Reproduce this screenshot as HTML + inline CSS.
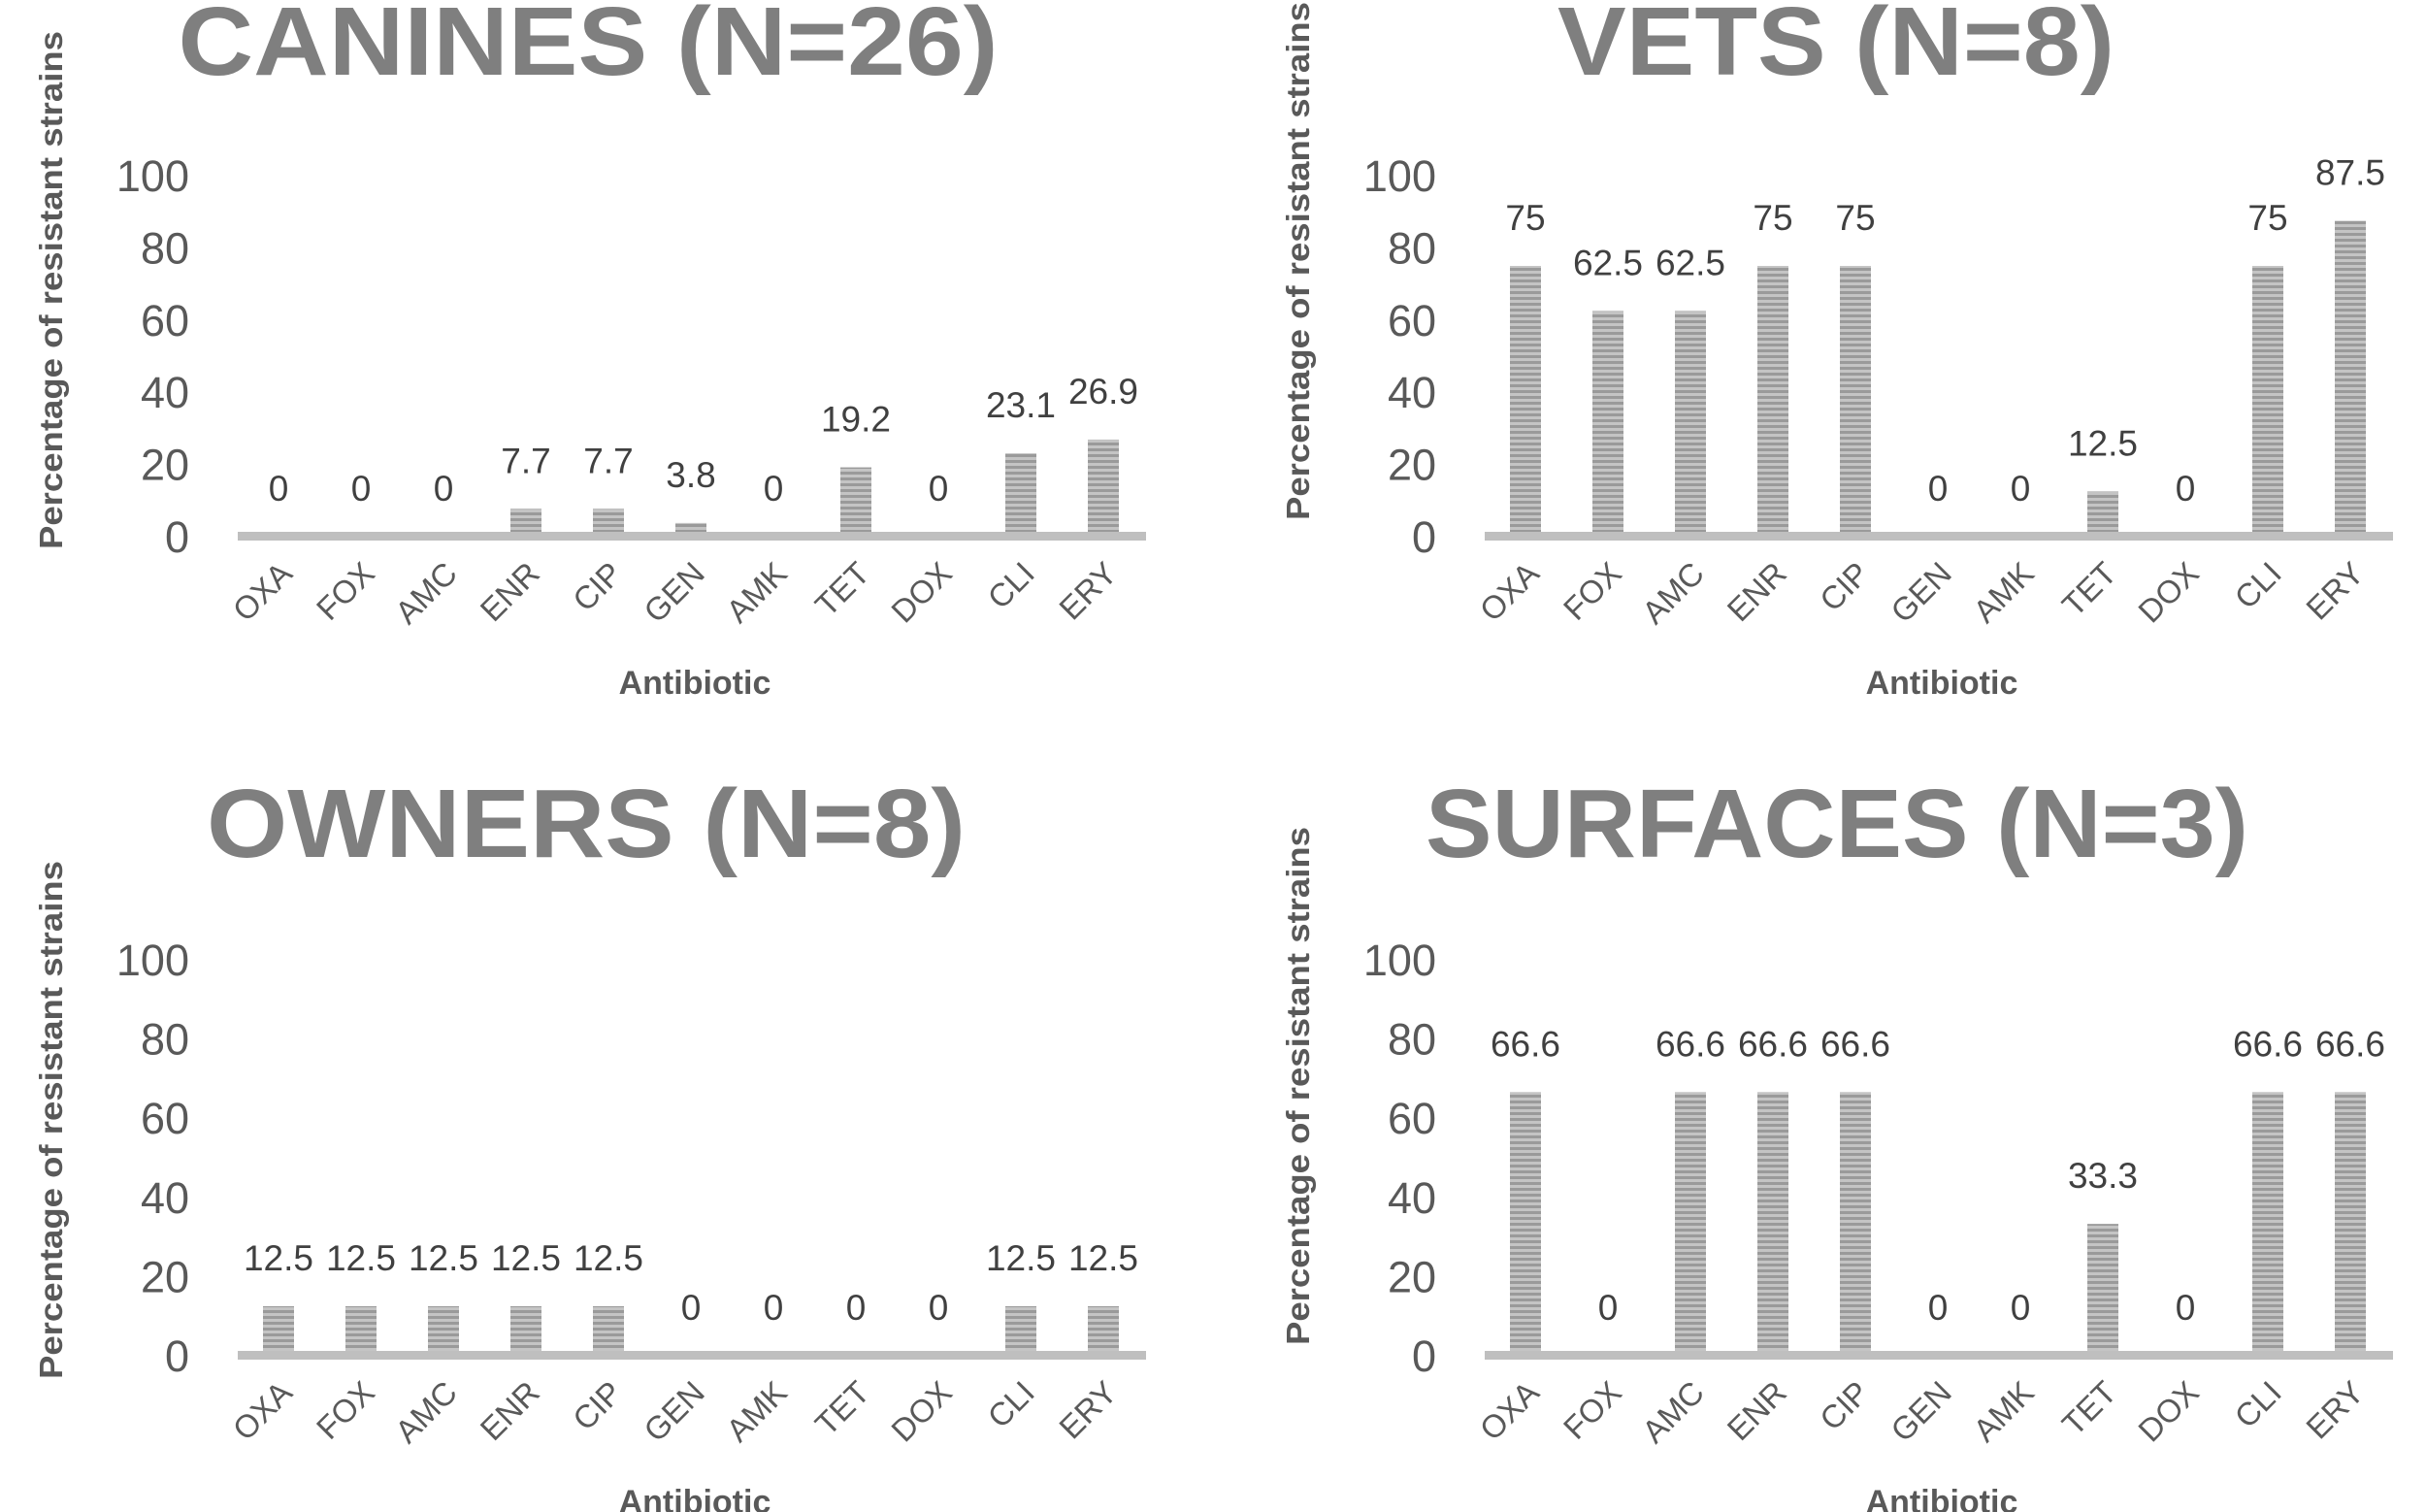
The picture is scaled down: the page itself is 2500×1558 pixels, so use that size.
<!DOCTYPE html>
<html><head><meta charset="utf-8"><style>
html,body{margin:0;padding:0;background:#fff;}
svg{display:block;font-family:"Liberation Sans",sans-serif;}
</style></head><body>
<svg id="chart" width="2500" height="1558" viewBox="0 0 2500 1558" xmlns="http://www.w3.org/2000/svg">
<defs>
<pattern id="stripes" width="8" height="6" patternUnits="userSpaceOnUse">
<rect width="8" height="6" fill="#c4c4c4"/><rect width="8" height="3" fill="#9a9a9a"/>
</pattern>
</defs>
</svg>
<script>
const categories = ["OXA","FOX","AMC","ENR","CIP","GEN","AMK","TET","DOX","CLI","ERY"];
const caninesValues = [0,0,0,7.7,7.7,3.8,0,19.2,0,23.1,26.9];
const caninesLabels = ["0","0","0","7.7","7.7","3.8","0","19.2","0","23.1","26.9"];
const vetsValues = [75,62.5,62.5,75,75,0,0,12.5,0,75,87.5];
const vetsLabels = ["75","62.5","62.5","75","75","0","0","12.5","0","75","87.5"];
const ownersValues = [12.5,12.5,12.5,12.5,12.5,0,0,0,0,12.5,12.5];
const ownersLabels = ["12.5","12.5","12.5","12.5","12.5","0","0","0","0","12.5","12.5"];
const surfacesValues = [66.6,0,66.6,66.6,66.6,0,0,33.3,0,66.6,66.6];
const surfacesLabels = ["66.6","0","66.6","66.6","66.6","0","0","33.3","0","66.6","66.6"];
const yTicks = [0,20,40,60,80,100];
const titles = ["CANINES (N=26)","VETS (N=8)","OWNERS (N=8)","SURFACES (N=3)"];

const NS = "http://www.w3.org/2000/svg";
const svg = document.getElementById("chart");
function mk(tag, attrs, parent){
  const e = document.createElementNS(NS, tag);
  for (const k in attrs) e.setAttribute(k, attrs[k]);
  (parent||svg).appendChild(e);
  return e;
}
const panels = [
  {name:"canines", values:caninesValues, labels:caninesLabels, dx:0, y0:553, y100:181, title:titles[0], tx:606, tb:77, tw:845, yt:299},
  {name:"vets", values:vetsValues, labels:vetsLabels, dx:1285, y0:553, y100:181, title:titles[1], tx:1892, tb:77, tw:574, yt:269},
  {name:"owners", values:ownersValues, labels:ownersLabels, dx:0, y0:1397, y100:989, title:titles[2], tx:604, tb:883, tw:782, yt:1154},
  {name:"surfaces", values:surfacesValues, labels:surfacesLabels, dx:1285, y0:1397, y100:989, title:titles[3], tx:1893, tb:883, tw:848, yt:1119}
];
panels.forEach(p=>{
  const g = mk("g",{});
  
  
  const xs = i => 287 + p.dx + i*85;
  const ys = v => p.y0 - (v/100)*(p.y0 - p.y100);
  const t = mk("text",{x:p.tx, y:p.tb, "text-anchor":"middle", "font-size":100, "font-weight":"bold", fill:"#7f7f7f", textLength:p.tw, lengthAdjust:"spacingAndGlyphs"}, g);
  t.textContent = p.title;
  
  
  yTicks.forEach(v=>{
    const tk = mk("text",{x:195+p.dx, y:ys(v)+16, "text-anchor":"end", "font-size":45, fill:"#595959"}, g);
    tk.textContent = v;
    
    
  });
  const yt = mk("text",{x:0, y:0, transform:`translate(${64+p.dx},${p.yt}) rotate(-90)`, "text-anchor":"middle", "font-size":33, "font-weight":"bold", fill:"#595959", textLength:534, lengthAdjust:"spacingAndGlyphs"}, g);
  yt.textContent = "Percentage of resistant strains";
  
  
  categories.forEach((c,i)=>{
    const v = p.values[i];
    const top = ys(v);
    if (v > 0) {
      const b = mk("rect",{x:xs(i)-16, y:top, width:32, height:p.y0-top, fill:"url(#stripes)"}, g);
      
      
    }
    const lb = mk("text",{x:xs(i), y:top-37, "text-anchor":"middle", "font-size":37, fill:"#404040"}, g);
    lb.textContent = p.labels[i];
    
    
    const cl = mk("text",{x:0, y:0, transform:`translate(${xs(i)+16},${p.y0+40}) rotate(-45)`, "text-anchor":"end", "font-size":33, fill:"#595959"}, g);
    cl.textContent = c;
    
    
  });
  const ax = mk("rect",{x:245+p.dx, y:p.y0-5, width:936, height:9, fill:"#bfbfbf"}, g);
  
  
  const xt = mk("text",{x:716+p.dx, y:p.y0+162, "text-anchor":"middle", "font-size":34, "font-weight":"bold", fill:"#595959"}, g);
  xt.textContent = "Antibiotic";
  
  
});
</script>
</body></html>
